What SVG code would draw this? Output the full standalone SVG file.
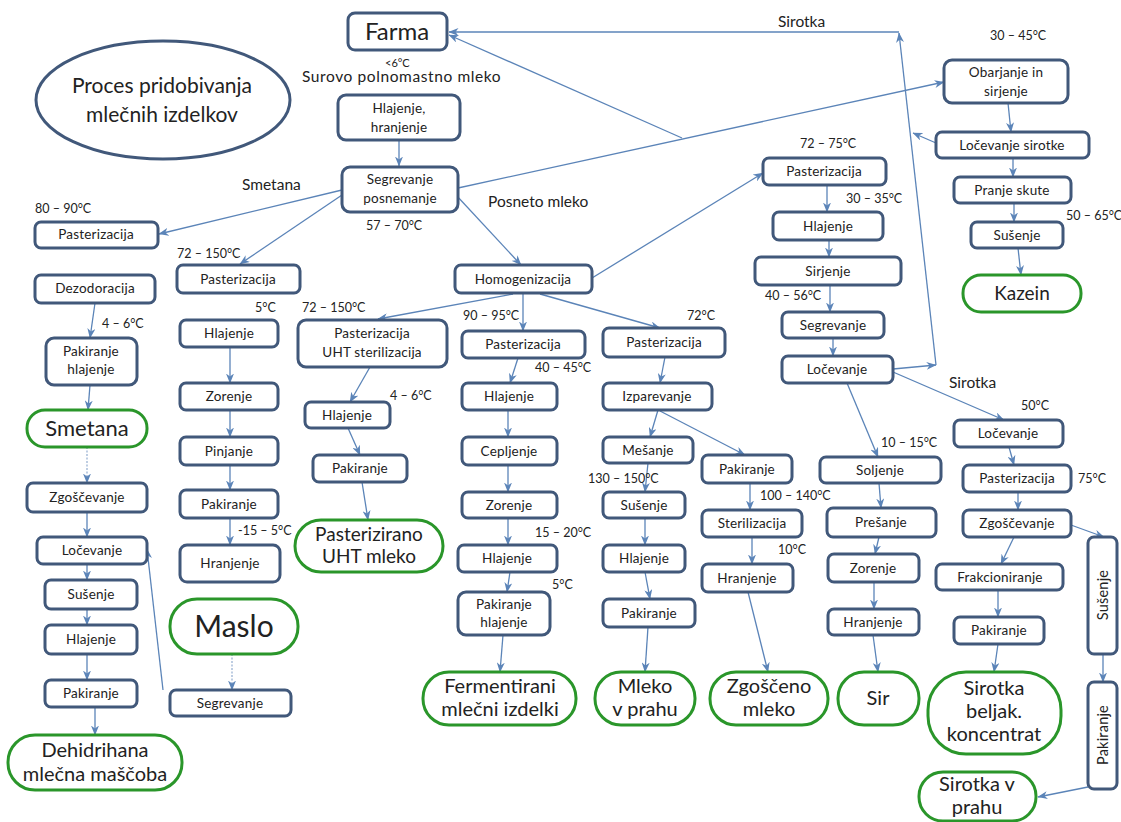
<svg xmlns="http://www.w3.org/2000/svg" width="1121" height="822" viewBox="0 0 1121 822">
<defs>
<marker id="a" viewBox="0 0 10 8" refX="9.5" refY="4" markerWidth="10" markerHeight="8" markerUnits="userSpaceOnUse" orient="auto"><path d="M0,0 L10,4 L0,8 L3,4z" fill="#5b84b8"/></marker>
<style>
.n rect{fill:#fff;stroke:#41587a;stroke-width:3}
.g rect{fill:#fff;stroke:#2a962a;stroke-width:3}
text{font-family:Lato,"Liberation Sans",sans-serif;fill:#222}
.n text{font-size:13.5px;text-anchor:middle;letter-spacing:0.2px}
.g text{font-size:20px;text-anchor:middle}
.l{font-size:12.5px}
.b{font-size:15.5px}
#conn line,#conn path{stroke:#5b84b8;stroke-width:1.3;fill:none;marker-end:url(#a)}
#conn .d{stroke:#9bb3d3;stroke-dasharray:2 1.5}
</style>
</defs>
<rect width="1121" height="822" fill="#fff"/>

<g id="conn">
<line x1="399" y1="140" x2="399" y2="166"/>
<line x1="342" y1="190" x2="159" y2="234"/>
<line x1="342" y1="195" x2="240" y2="264"/>
<line x1="456" y1="195" x2="521" y2="265"/>
<line x1="458" y1="188" x2="944" y2="82"/>
<line x1="682" y1="138" x2="449" y2="35"/>
<line x1="893" y1="369" x2="936" y2="365"/>
<line x1="936" y1="365" x2="899" y2="33"/>
<line x1="899" y1="32" x2="449" y2="32"/>
<line x1="936" y1="143" x2="913" y2="133"/>
<line x1="95" y1="303" x2="90" y2="338"/>
<line x1="90" y1="385" x2="88" y2="410"/>
<line class="d" x1="87" y1="447" x2="87" y2="483"/>
<line x1="87" y1="512" x2="87" y2="537"/>
<line x1="87" y1="564" x2="87" y2="580"/>
<line x1="87" y1="609" x2="87" y2="625"/>
<line x1="87" y1="654" x2="87" y2="680"/>
<line x1="95" y1="707" x2="95" y2="735"/>
<line x1="230" y1="347" x2="230" y2="383"/>
<line x1="230" y1="410" x2="230" y2="437"/>
<line x1="230" y1="465" x2="230" y2="490"/>
<line x1="230" y1="518" x2="230" y2="545"/>
<line class="d" x1="232" y1="654" x2="232" y2="690"/>
<line x1="163" y1="690" x2="147" y2="549"/>
<line x1="513" y1="294" x2="378" y2="319"/>
<line x1="370" y1="367" x2="350" y2="402"/>
<line x1="348" y1="428" x2="360" y2="455"/>
<line x1="362" y1="482" x2="368" y2="520"/>
<line x1="523" y1="293" x2="523" y2="331"/>
<line x1="518" y1="358" x2="510" y2="383"/>
<line x1="508" y1="410" x2="508" y2="437"/>
<line x1="508" y1="465" x2="508" y2="492"/>
<line x1="508" y1="518" x2="508" y2="545"/>
<line x1="510" y1="572" x2="507" y2="592"/>
<line x1="503" y1="635" x2="500" y2="672"/>
<line x1="540" y1="294" x2="660" y2="328"/>
<line x1="592" y1="278" x2="763" y2="173"/>
<line x1="665" y1="357" x2="660" y2="383"/>
<line x1="658" y1="410" x2="650" y2="437"/>
<line x1="660" y1="411" x2="745" y2="455"/>
<line x1="648" y1="463" x2="645" y2="492"/>
<line x1="645" y1="518" x2="645" y2="545"/>
<line x1="645" y1="572" x2="650" y2="599"/>
<line x1="648" y1="627" x2="645" y2="672"/>
<line x1="750" y1="483" x2="750" y2="510"/>
<line x1="752" y1="537" x2="752" y2="564"/>
<line x1="748" y1="592" x2="768" y2="672"/>
<line x1="827" y1="185" x2="827" y2="212"/>
<line x1="829" y1="240" x2="829" y2="257"/>
<line x1="830" y1="285" x2="830" y2="312"/>
<line x1="833" y1="338" x2="833" y2="356"/>
<line x1="847" y1="383" x2="878" y2="457"/>
<line x1="893" y1="372" x2="1004" y2="420"/>
<line x1="879" y1="483" x2="881" y2="508"/>
<line x1="879" y1="537" x2="875" y2="554"/>
<line x1="874" y1="582" x2="874" y2="609"/>
<line x1="873" y1="635" x2="878" y2="672"/>
<line x1="1008" y1="103" x2="1011" y2="132"/>
<line x1="1013" y1="158" x2="1013" y2="177"/>
<line x1="1014" y1="203" x2="1014" y2="222"/>
<line x1="1018" y1="248" x2="1021" y2="275"/>
<line x1="1009" y1="447" x2="1014" y2="465"/>
<line x1="1018" y1="492" x2="1018" y2="510"/>
<line x1="1071" y1="525" x2="1104" y2="537"/>
<line x1="1014" y1="537" x2="1001" y2="564"/>
<line x1="998" y1="590" x2="998" y2="617"/>
<line x1="998" y1="644" x2="994" y2="672"/>
<line x1="1103" y1="654" x2="1103" y2="682"/>
<line x1="1088" y1="787" x2="1038" y2="797"/>
</g>

<g id="title"><ellipse cx="163" cy="100" rx="127" ry="59" fill="#fff" stroke="#41587a" stroke-width="3"/>
<text x="162" y="93" font-size="21" text-anchor="middle">Proces pridobivanja</text>
<text x="162" y="122" font-size="21" text-anchor="middle">mlečnih izdelkov</text></g>

<g id="farma" class="n"><rect x="348" y="13" width="99" height="37" rx="7"/><text x="397" y="40" style="font-size:24px;letter-spacing:0">Farma</text></g>
<g id="hlajenje-hranjenje" class="n"><rect x="338" y="95" width="122" height="45" rx="8"/><text x="399" y="113">Hlajenje,</text><text x="399" y="132">hranjenje</text></g>
<g id="segrevanje-posnemanje" class="n"><rect x="342" y="167" width="116" height="45" rx="8"/><text x="400" y="184">Segrevanje</text><text x="400" y="203">posnemanje</text></g>

<g id="past-l" class="n"><rect x="35" y="222" width="123" height="26" rx="6"/><text x="96" y="239">Pasterizacija</text></g>
<g id="dezodoracija" class="n"><rect x="35" y="275" width="120" height="28" rx="6"/><text x="95" y="293">Dezodoracija</text></g>
<g id="pak-hl-l" class="n"><rect x="46" y="338" width="91" height="47" rx="8"/><text x="91" y="356">Pakiranje</text><text x="91" y="374">hlajenje</text></g>
<g id="smetana" class="g"><rect x="27" y="410" width="120" height="37" rx="18"/><text x="87" y="436" style="font-size:22px">Smetana</text></g>
<g id="zgosc-l" class="n"><rect x="27" y="483" width="120" height="29" rx="6"/><text x="87" y="502">Zgoščevanje</text></g>
<g id="locevanje-l" class="n"><rect x="37" y="537" width="110" height="27" rx="6"/><text x="92" y="555">Ločevanje</text></g>
<g id="susenje-l" class="n"><rect x="45" y="580" width="92" height="29" rx="6"/><text x="91" y="599">Sušenje</text></g>
<g id="hlajenje-l" class="n"><rect x="45" y="625" width="92" height="29" rx="6"/><text x="91" y="644">Hlajenje</text></g>
<g id="pakiranje-l" class="n"><rect x="45" y="680" width="92" height="27" rx="6"/><text x="91" y="698">Pakiranje</text></g>
<g id="dehidrihana" class="g"><rect x="8" y="735" width="174" height="55" rx="27"/><text x="95" y="757">Dehidrihana</text><text x="95" y="781">mlečna maščoba</text></g>

<g id="past-2" class="n"><rect x="177" y="265" width="123" height="28" rx="6"/><text x="238" y="284">Pasterizacija</text></g>
<g id="hlajenje-2" class="n"><rect x="180" y="320" width="98" height="27" rx="6"/><text x="229" y="338">Hlajenje</text></g>
<g id="zorenje-2" class="n"><rect x="180" y="383" width="98" height="27" rx="6"/><text x="229" y="401">Zorenje</text></g>
<g id="pinjanje" class="n"><rect x="180" y="437" width="98" height="28" rx="6"/><text x="229" y="456">Pinjanje</text></g>
<g id="pakiranje-2" class="n"><rect x="180" y="490" width="98" height="28" rx="6"/><text x="229" y="509">Pakiranje</text></g>
<g id="hranjenje-2" class="n"><rect x="180" y="545" width="100" height="37" rx="7"/><text x="230" y="568">Hranjenje</text></g>
<g id="maslo" class="g"><rect x="170" y="599" width="128" height="55" rx="27"/><text x="234" y="637" style="font-size:30px">Maslo</text></g>
<g id="segrevanje-2" class="n"><rect x="170" y="690" width="121" height="26" rx="6"/><text x="230" y="708">Segrevanje</text></g>

<g id="uht" class="n"><rect x="298" y="320" width="149" height="47" rx="8"/><text x="372" y="338">Pasterizacija</text><text x="372" y="357">UHT sterilizacija</text></g>
<g id="hlajenje-3" class="n"><rect x="305" y="402" width="85" height="26" rx="6"/><text x="347" y="420">Hlajenje</text></g>
<g id="pakiranje-3" class="n"><rect x="313" y="455" width="94" height="27" rx="6"/><text x="360" y="473">Pakiranje</text></g>
<g id="uht-mleko" class="g"><rect x="295" y="520" width="148" height="52" rx="26"/><text x="369" y="541" style="font-size:19px">Pasterizirano</text><text x="369" y="563" style="font-size:19px">UHT mleko</text></g>

<g id="homogenizacija" class="n"><rect x="455" y="265" width="137" height="28" rx="6"/><text x="523" y="284">Homogenizacija</text></g>

<g id="past-4" class="n"><rect x="462" y="331" width="123" height="27" rx="6"/><text x="523" y="349">Pasterizacija</text></g>
<g id="hlajenje-4" class="n"><rect x="462" y="383" width="95" height="27" rx="6"/><text x="509" y="401">Hlajenje</text></g>
<g id="cepljenje" class="n"><rect x="462" y="437" width="95" height="28" rx="6"/><text x="509" y="456">Cepljenje</text></g>
<g id="zorenje-4" class="n"><rect x="462" y="492" width="95" height="26" rx="6"/><text x="509" y="510">Zorenje</text></g>
<g id="hlajenje-4b" class="n"><rect x="458" y="545" width="99" height="27" rx="6"/><text x="507" y="563">Hlajenje</text></g>
<g id="pak-hl-4" class="n"><rect x="458" y="592" width="92" height="43" rx="8"/><text x="504" y="609">Pakiranje</text><text x="504" y="627">hlajenje</text></g>
<g id="fermentirani" class="g"><rect x="423" y="672" width="153" height="53" rx="26"/><text x="500" y="693">Fermentirani</text><text x="500" y="716">mlečni izdelki</text></g>

<g id="past-5" class="n"><rect x="603" y="328" width="122" height="29" rx="6"/><text x="664" y="347">Pasterizacija</text></g>
<g id="izparevanje" class="n"><rect x="603" y="383" width="109" height="27" rx="6"/><text x="657" y="401">Izparevanje</text></g>
<g id="mesanje" class="n"><rect x="603" y="437" width="90" height="26" rx="6"/><text x="648" y="455">Mešanje</text></g>
<g id="susenje-5" class="n"><rect x="603" y="492" width="82" height="26" rx="6"/><text x="644" y="510">Sušenje</text></g>
<g id="hlajenje-5" class="n"><rect x="603" y="545" width="82" height="27" rx="6"/><text x="644" y="563">Hlajenje</text></g>
<g id="pakiranje-5" class="n"><rect x="603" y="599" width="92" height="28" rx="6"/><text x="649" y="618">Pakiranje</text></g>
<g id="mleko-v-prahu" class="g"><rect x="595" y="672" width="100" height="53" rx="26"/><text x="645" y="693">Mleko</text><text x="645" y="716">v prahu</text></g>

<g id="pakiranje-6" class="n"><rect x="702" y="455" width="90" height="28" rx="6"/><text x="747" y="474">Pakiranje</text></g>
<g id="sterilizacija" class="n"><rect x="702" y="510" width="100" height="27" rx="6"/><text x="752" y="528">Sterilizacija</text></g>
<g id="hranjenje-6" class="n"><rect x="702" y="564" width="91" height="28" rx="6"/><text x="747" y="583">Hranjenje</text></g>
<g id="zgosceno" class="g"><rect x="710" y="672" width="118" height="53" rx="26"/><text x="769" y="693">Zgoščeno</text><text x="769" y="716">mleko</text></g>

<g id="past-7" class="n"><rect x="763" y="158" width="123" height="27" rx="6"/><text x="824" y="176">Pasterizacija</text></g>
<g id="hlajenje-7" class="n"><rect x="773" y="212" width="110" height="28" rx="6"/><text x="828" y="231">Hlajenje</text></g>
<g id="sirjenje" class="n"><rect x="755" y="257" width="146" height="28" rx="6"/><text x="828" y="276">Sirjenje</text></g>
<g id="segrevanje-7" class="n"><rect x="782" y="312" width="102" height="26" rx="6"/><text x="833" y="330">Segrevanje</text></g>
<g id="locevanje-7" class="n"><rect x="782" y="356" width="111" height="27" rx="6"/><text x="837" y="374">Ločevanje</text></g>
<g id="soljenje" class="n"><rect x="820" y="457" width="121" height="26" rx="6"/><text x="880" y="475">Soljenje</text></g>
<g id="presanje" class="n"><rect x="827" y="508" width="109" height="29" rx="6"/><text x="881" y="527">Prešanje</text></g>
<g id="zorenje-7" class="n"><rect x="828" y="554" width="91" height="28" rx="6"/><text x="873" y="573">Zorenje</text></g>
<g id="hranjenje-7" class="n"><rect x="828" y="609" width="91" height="26" rx="6"/><text x="873" y="627">Hranjenje</text></g>
<g id="sir" class="g"><rect x="838" y="672" width="81" height="53" rx="26"/><text x="878" y="705">Sir</text></g>

<g id="obarjanje" class="n"><rect x="944" y="60" width="124" height="43" rx="8"/><text x="1006" y="77">Obarjanje in</text><text x="1006" y="96">sirjenje</text></g>
<g id="locevanje-sirotke" class="n"><rect x="936" y="132" width="153" height="26" rx="6"/><text x="1012" y="150">Ločevanje sirotke</text></g>
<g id="pranje-skute" class="n"><rect x="954" y="177" width="117" height="26" rx="6"/><text x="1012" y="195">Pranje skute</text></g>
<g id="susenje-8" class="n"><rect x="971" y="222" width="92" height="26" rx="6"/><text x="1017" y="240">Sušenje</text></g>
<g id="kazein" class="g"><rect x="963" y="275" width="118" height="37" rx="18"/><text x="1022" y="300" style="font-size:19px">Kazein</text></g>

<g id="locevanje-9" class="n"><rect x="954" y="420" width="109" height="27" rx="6"/><text x="1008" y="438">Ločevanje</text></g>
<g id="past-9" class="n"><rect x="963" y="465" width="108" height="27" rx="6"/><text x="1017" y="483">Pasterizacija</text></g>
<g id="zgosc-9" class="n"><rect x="963" y="510" width="108" height="27" rx="6"/><text x="1017" y="528">Zgoščevanje</text></g>
<g id="frakcioniranje" class="n"><rect x="936" y="564" width="127" height="26" rx="6"/><text x="1000" y="582">Frakcioniranje</text></g>
<g id="pakiranje-9" class="n"><rect x="954" y="617" width="90" height="27" rx="6"/><text x="999" y="635">Pakiranje</text></g>
<g id="beljak" class="g"><rect x="928" y="672" width="133" height="82" rx="38"/><text x="994" y="695">Sirotka</text><text x="994" y="718">beljak.</text><text x="994" y="741">koncentrat</text></g>
<g id="susenje-v" class="n"><rect x="1088" y="537" width="29" height="117" rx="6"/><text transform="translate(1108,595) rotate(-90)" style="font-size:14.5px">Sušenje</text></g>
<g id="pakiranje-v" class="n"><rect x="1088" y="682" width="29" height="107" rx="6"/><text transform="translate(1108,735) rotate(-90)" style="font-size:14.5px">Pakiranje</text></g>
<g id="sirotka-v-prahu" class="g"><rect x="919" y="772" width="117" height="49" rx="24"/><text x="977" y="791">Sirotka v</text><text x="977" y="814">prahu</text></g>

<g id="labels">
<text class="b" x="302" y="82" letter-spacing="0.6">Surovo polnomastno mleko</text>
<text x="385" y="67" font-size="11">&lt;6°C</text>
<text class="b" x="778" y="27">Sirotka</text>
<text class="b" x="242" y="190">Smetana</text>
<text class="b" x="488" y="207">Posneto mleko</text>
<text class="b" x="949" y="388">Sirotka</text>
<text class="l" x="35" y="213">80 – 90°C</text>
<text class="l" x="177" y="258">72 – 150°C</text>
<text class="l" x="366" y="230">57 – 70°C</text>
<text class="l" x="800" y="148">72 – 75°C</text>
<text class="l" x="846" y="203">30 – 35°C</text>
<text class="l" x="990" y="40">30 – 45°C</text>
<text class="l" x="1066" y="220">50 – 65°C</text>
<text class="l" x="102" y="328">4 – 6°C</text>
<text class="l" x="255" y="312">5°C</text>
<text class="l" x="238" y="535">-15 – 5°C</text>
<text class="l" x="302" y="312">72 – 150°C</text>
<text class="l" x="390" y="400">4 – 6°C</text>
<text class="l" x="463" y="320">90 – 95°C</text>
<text class="l" x="535" y="372">40 – 45°C</text>
<text class="l" x="535" y="537">15 – 20°C</text>
<text class="l" x="552" y="589">5°C</text>
<text class="l" x="687" y="320">72°C</text>
<text class="l" x="588" y="483">130 – 150°C</text>
<text class="l" x="760" y="500">100 – 140°C</text>
<text class="l" x="778" y="554">10°C</text>
<text class="l" x="765" y="300">40 – 56°C</text>
<text class="l" x="881" y="447">10 – 15°C</text>
<text class="l" x="1021" y="410">50°C</text>
<text class="l" x="1078" y="483">75°C</text>
</g>
</svg>
